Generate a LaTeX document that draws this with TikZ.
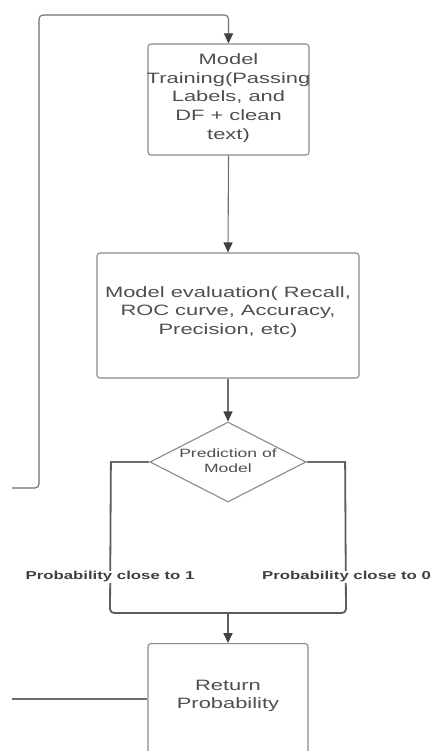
\documentclass[tikz,border=0pt]{standalone}
\usepackage{fontspec}
\setmainfont[FakeStretch=1.46]{Liberation Sans}
\usetikzlibrary{arrows.meta,shapes.geometric,calc}
\definecolor{txtgray}{HTML}{4F4F4F}
\definecolor{linegray}{HTML}{6E6E6E}
\definecolor{boxgray}{HTML}{8A8A8A}
\definecolor{tipgray}{HTML}{404040}
\begin{document}
\begin{tikzpicture}[x=1pt,y=-1pt,
  boxnode/.style={draw=boxgray,line width=1.1pt,rounded corners=3pt,fill=white,inner sep=0pt},
  txt/.style={text=txtgray,align=center,inner sep=0pt,font=\fontsize{15}{18.6}\selectfont},
  dtxt/.style={text=txtgray,align=center,inner sep=0pt,font=\fontsize{12}{15}\selectfont},
  lbl/.style={text=tipgray,fill=white,inner sep=1pt,font=\bfseries\fontsize{11.5}{14}\selectfont},
  conn/.style={draw=linegray,line width=1.1pt,rounded corners=4pt},
  flow/.style={conn,-{Triangle[length=10pt,width=9pt,color=tipgray]}},
  merge/.style={draw=tipgray!85,line width=1.8pt,rounded corners=4pt}]
\useasboundingbox (0,0) rectangle (431,751);
\clip (0,0) rectangle (431,751);
\fill[white] (0,0) rectangle (431,751);

\node[boxnode,minimum width=161pt,minimum height=111pt] (b1) at (228.5,99.5) {};
\node[txt] (t1) at (228.5,98) {Model\\Training(Passing\\Labels, and\\DF + clean\\text)};

\node[boxnode,minimum width=262pt,minimum height=125pt] (b2) at (228,315.5) {};
\node[txt] (t2) at (228,312) {Model evaluation( Recall,\\ROC curve, Accuracy,\\Precision, etc)};

\node[diamond,draw=boxgray,line width=1.1pt,minimum width=156pt,minimum height=80pt,inner sep=0pt,aspect=1.95] (d) at (228,462) {};
\node[dtxt] (td) at (228,461) {Prediction of\\Model};

\node[boxnode,minimum width=160pt,minimum height=130pt,anchor=north] (b3) at (228,643) {};
\node[txt] (t3) at (228,696) {Return\\Probability};

% loop back
\coordinate (lp) at (12,488);
\coordinate (lpa) at (39,488);
\coordinate (lpb) at (39,15);
\coordinate (lpc) at (228.5,15);
\draw[flow] (lp) -- (lpa) -- (lpb) -- (lpc) -- (b1.north);

% main flow
\draw[flow] (b1.south) -- (b2.north);
\draw[flow] (b2.south) -- (d.north);

% branches
\coordinate (m) at (228,613);
\coordinate (lb1) at (110,462);
\coordinate (lb2) at (110,613);
\coordinate (rb1) at (346,462);
\coordinate (rb2) at (346,613);
\draw[conn] (d.west) -- (lb1);
\draw[conn] (d.east) -- (rb1);
\draw[merge] ($(lb1)+(0.9,0)$) -- (lb2) -- (m);
\draw[merge] ($(rb1)+(-0.9,0)$) -- (rb2) -- (m);
\node[lbl] (l1) at (110,577) {Probability close to 1};
\node[lbl] (l0) at (346.5,577) {Probability close to 0};
\draw[merge,-{Triangle[length=10pt,width=9pt,color=tipgray]}] (m) -- (b3.north);

% line into return box
\coordinate (in3) at (12,699);
\draw[conn] (in3) -- (in3 -| b3.west);
\end{tikzpicture}
\end{document}
